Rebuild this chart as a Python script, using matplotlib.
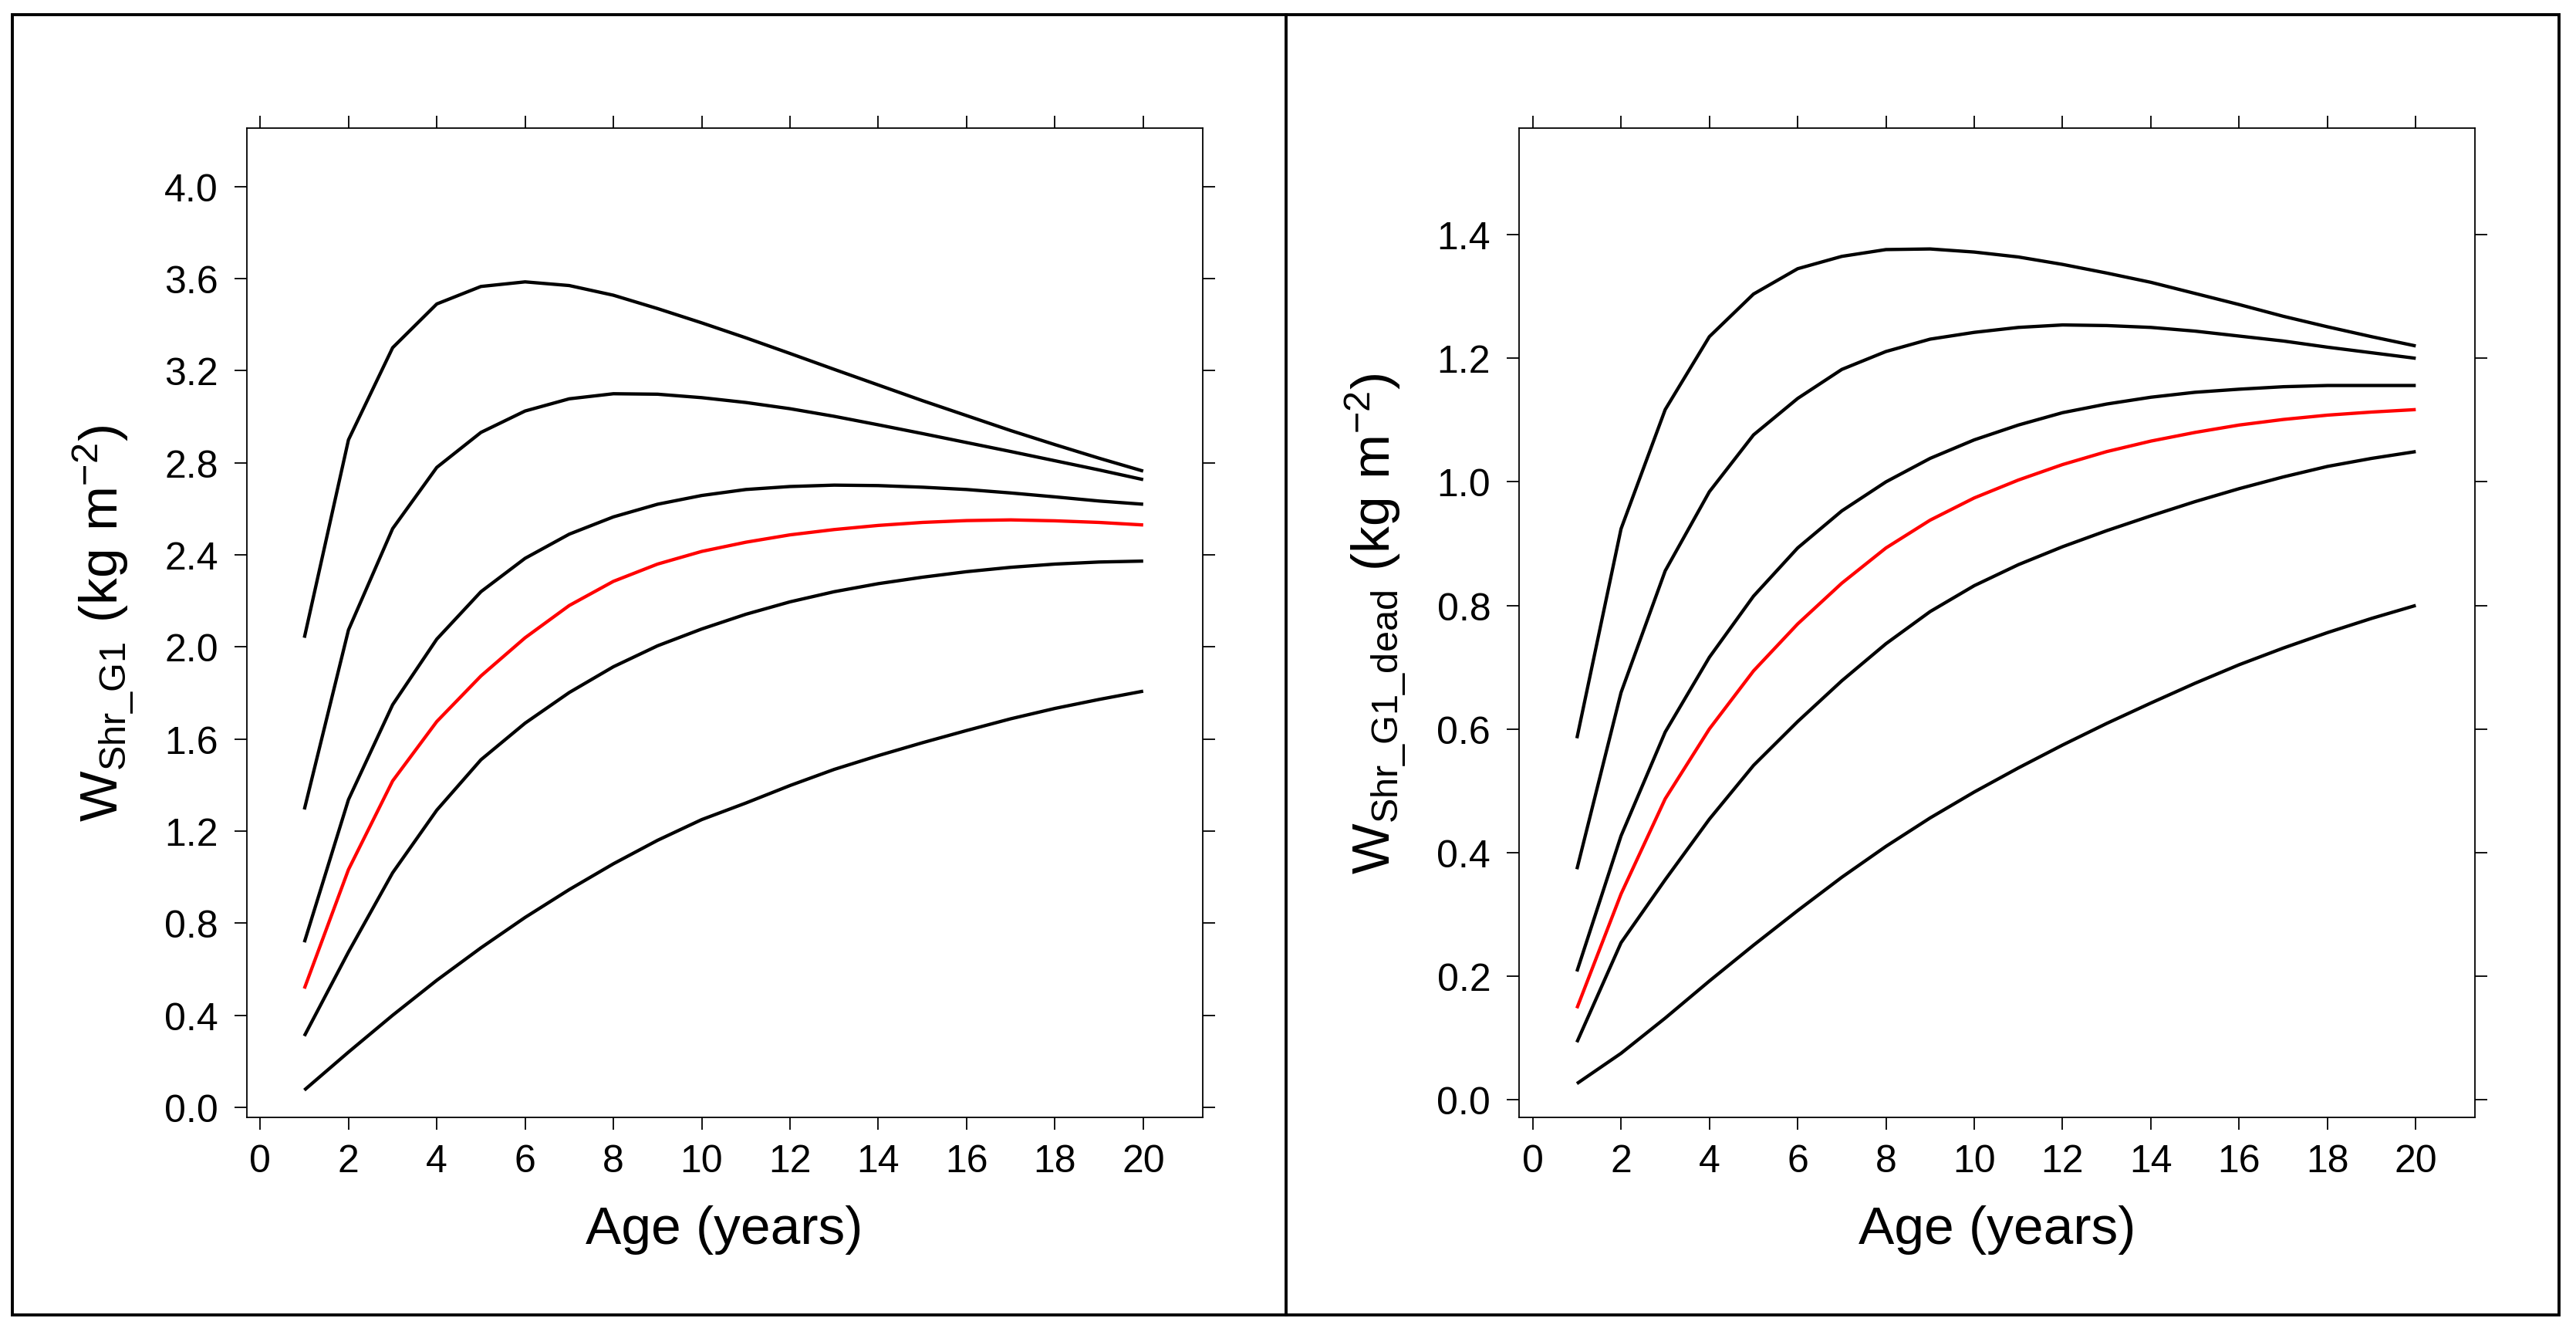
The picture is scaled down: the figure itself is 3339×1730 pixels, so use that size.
import matplotlib
matplotlib.use("Agg")
import matplotlib.pyplot as plt
from matplotlib.patches import Rectangle
from matplotlib.lines import Line2D

plt.rcParams['font.family'] = ['Liberation Sans', 'DejaVu Sans']
plt.rcParams['mathtext.fontset'] = 'custom'
plt.rcParams['mathtext.rm'] = 'Liberation Sans'

# ---------------- data ----------------
ages = list(range(1, 21))

# left panel: W_Shr_G1
left_c1 = [2.040, 2.900, 3.300, 3.490, 3.566, 3.586, 3.570, 3.528, 3.470, 3.408,
           3.343, 3.275, 3.206, 3.138, 3.070, 3.005, 2.940, 2.879, 2.820, 2.764]
left_c2 = [1.294, 2.074, 2.514, 2.780, 2.932, 3.025, 3.078, 3.100, 3.098, 3.083,
           3.062, 3.035, 3.002, 2.965, 2.927, 2.888, 2.849, 2.809, 2.769, 2.727]
left_c3 = [0.717, 1.337, 1.749, 2.034, 2.240, 2.385, 2.490, 2.565, 2.620, 2.658,
           2.684, 2.697, 2.703, 2.701, 2.694, 2.684, 2.669, 2.652, 2.634, 2.620]
left_red = [0.516, 1.033, 1.418, 1.676, 1.874, 2.040, 2.180, 2.285, 2.360, 2.415,
            2.455, 2.487, 2.510, 2.528, 2.541, 2.549, 2.552, 2.548, 2.541, 2.530]
left_c5 = [0.310, 0.675, 1.019, 1.291, 1.510, 1.669, 1.802, 1.914, 2.005, 2.078,
           2.142, 2.196, 2.240, 2.275, 2.303, 2.327, 2.346, 2.360, 2.369, 2.373]
left_c6 = [0.075, 0.240, 0.400, 0.552, 0.693, 0.825, 0.946, 1.058, 1.160, 1.250,
           1.322, 1.398, 1.468, 1.528, 1.584, 1.637, 1.688, 1.733, 1.772, 1.808]

# right panel: W_Shr_G1_dead
right_c1 = [0.585, 0.924, 1.117, 1.235, 1.304, 1.345, 1.365, 1.376, 1.377, 1.372,
            1.364, 1.352, 1.338, 1.323, 1.305, 1.287, 1.268, 1.251, 1.235, 1.220]
right_c2 = [0.373, 0.659, 0.856, 0.984, 1.076, 1.135, 1.182, 1.211, 1.231, 1.242,
            1.250, 1.254, 1.253, 1.250, 1.244, 1.236, 1.228, 1.218, 1.209, 1.200]
right_c3 = [0.2075, 0.427, 0.595, 0.716, 0.815, 0.893, 0.953, 1.000, 1.038, 1.068,
            1.092, 1.112, 1.126, 1.137, 1.145, 1.150, 1.154, 1.156, 1.156, 1.156]
right_red = [0.148, 0.333, 0.487, 0.600, 0.694, 0.770, 0.836, 0.893, 0.938, 0.974,
             1.003, 1.028, 1.049, 1.066, 1.080, 1.092, 1.101, 1.108, 1.113, 1.117]
right_c5 = [0.093, 0.254, 0.356, 0.454, 0.541, 0.612, 0.678, 0.738, 0.790, 0.832,
            0.866, 0.895, 0.921, 0.945, 0.968, 0.989, 1.008, 1.025, 1.038, 1.049]
right_c6 = [0.026, 0.075, 0.132, 0.192, 0.250, 0.306, 0.360, 0.410, 0.456, 0.498,
            0.537, 0.574, 0.609, 0.642, 0.674, 0.704, 0.731, 0.756, 0.779, 0.800]

x_ticks = list(range(0, 21, 2))
x_ticklabels = [str(t) for t in x_ticks]
left_yticks = [0.0, 0.4, 0.8, 1.2, 1.6, 2.0, 2.4, 2.8, 3.2, 3.6, 4.0]
left_yticklabels = ["0.0", "0.4", "0.8", "1.2", "1.6", "2.0", "2.4", "2.8", "3.2", "3.6", "4.0"]
right_yticks = [0.0, 0.2, 0.4, 0.6, 0.8, 1.0, 1.2, 1.4]
right_yticklabels = ["0.0", "0.2", "0.4", "0.6", "0.8", "1.0", "1.2", "1.4"]

x_label = "Age (years)"
left_ylabel = r"$\mathregular{W_{Shr\_G1}\ (kg\ m^{-2})}$"
right_ylabel = r"$\mathregular{W_{Shr\_G1\_dead}\ (kg\ m^{-2})}$"

# ---------------- figure ----------------
W, H = 3339, 1731
fig = plt.figure(figsize=(W / 100, H / 100), dpi=100)
fig.patch.set_facecolor('white')

def fx(px):
    return px / W

def fy(py):
    return 1 - py / H

ax_top, ax_bot = 166.7, 1449.0
axL = fig.add_axes([fx(319.5), fy(ax_bot), fx(1239), (ax_bot - ax_top) / H])
axR = fig.add_axes([fx(1969), fy(ax_bot), fx(1239), (ax_bot - ax_top) / H])

LW = 3.1
def style(ax, curves, red, yticks, yticklabels, ylim, ylabel):
    for c in curves:
        ax.plot(ages, c, color='black', lw=LW, solid_capstyle='butt', solid_joinstyle='round')
    ax.plot(ages, red, color='#ff0000', lw=LW, solid_capstyle='butt', solid_joinstyle='round')
    ax.set_xlim(-0.31, 21.34)
    ax.set_ylim(*ylim)
    ax.set_xticks(x_ticks)
    ax.set_xticklabels(x_ticklabels)
    ax.set_yticks(yticks)
    ax.set_yticklabels(yticklabels)
    ax.tick_params(axis='both', which='both', direction='out', length=11.5, width=1.3,
                   labelsize=36, colors='black', top=True, right=True,
                   labeltop=False, labelright=False)
    ax.tick_params(axis='x', pad=13)
    ax.tick_params(axis='y', pad=15)
    for s in ax.spines.values():
        s.set_linewidth(1.3)
        s.set_color('black')
    ax.set_xlabel(x_label, fontsize=50)
    ax.xaxis.set_label_coords(0.5, -0.088)
    ax.set_ylabel(ylabel, fontsize=50)
    ax.yaxis.set_label_coords(-0.116, 0.5)

style(axL, [left_c1, left_c2, left_c3, left_c5, left_c6], left_red,
      left_yticks, left_yticklabels, (-0.0436, 4.255), left_ylabel)
style(axR, [right_c1, right_c2, right_c3, right_c5, right_c6], right_red,
      right_yticks, right_yticklabels, (-0.0287, 1.573), right_ylabel)

# outer frame and divider
fig.patches.append(Rectangle((fx(16), fy(1705)), fx(3317 - 16), (1705 - 20) / H,
                             transform=fig.transFigure, fill=False, edgecolor='black',
                             linewidth=2.8))
fig.lines.append(Line2D([fx(1667), fx(1667)], [fy(20), fy(1705)],
                        transform=fig.transFigure, color='black', linewidth=2.8))

fig.savefig("out.png", dpi=100, facecolor='white')
